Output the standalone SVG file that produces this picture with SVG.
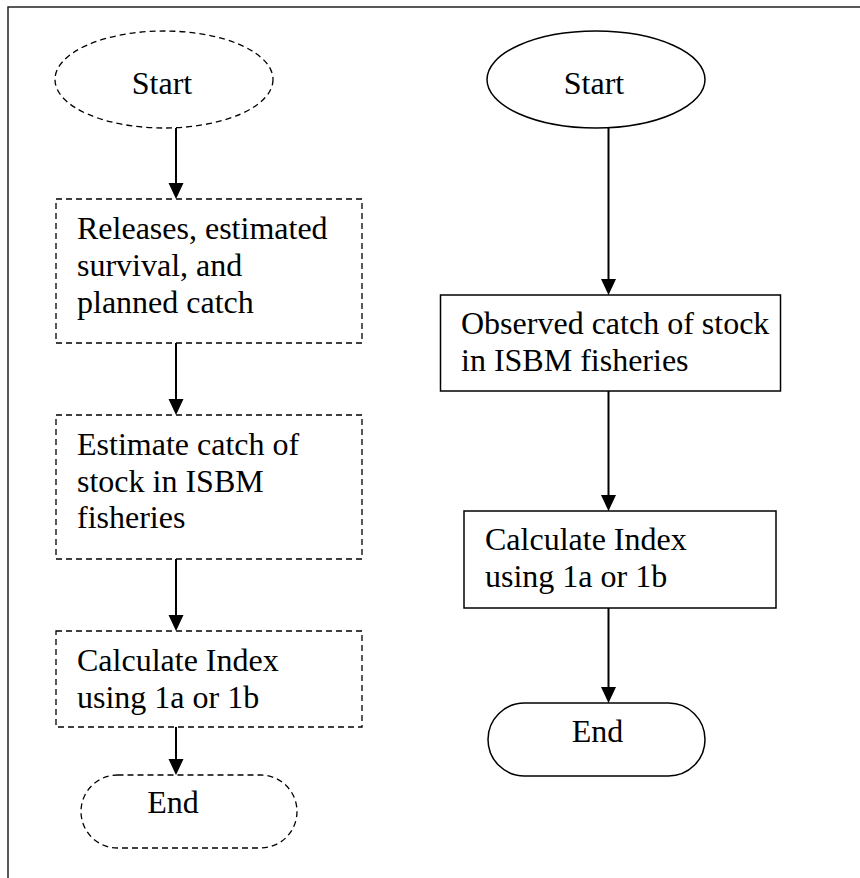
<svg xmlns="http://www.w3.org/2000/svg" width="860" height="878" viewBox="0 0 860 878">
  <defs>
    <marker id="arrow" markerUnits="userSpaceOnUse" markerWidth="16" markerHeight="16" viewBox="0 0 16 16" refX="6" refY="8" orient="auto">
      <path d="M0,0.5 L16,8 L0,15.5 z" fill="#000"/>
    </marker>
    <style>
      .solid{fill:#fff;stroke:#000;stroke-width:1.5}
      .dash{fill:#fff;stroke:#000;stroke-width:1.3;stroke-dasharray:6 4}
      .lbl{font-family:"Liberation Serif","Times New Roman",serif;font-size:32px;fill:#000}
      .mid{text-anchor:middle}
      .conn{stroke:#000;stroke-width:2;fill:none;marker-end:url(#arrow)}
    </style>
  </defs>
  <rect width="860" height="878" fill="#fff"/>
  <!-- page frame (left and top edges) -->
  <path d="M8,878 V7 H860" fill="none" stroke="#222" stroke-width="1.5"/>

  <!-- connectors -->
  <g id="connectors">
    <path class="conn" d="M176,128 V189"/>
    <path class="conn" d="M176,343 V405"/>
    <path class="conn" d="M176,559 V621"/>
    <path class="conn" d="M176,727 V765"/>
    <path class="conn" d="M608.5,128 V285"/>
    <path class="conn" d="M608.5,391 V501"/>
    <path class="conn" d="M608.5,608 V693"/>
  </g>

  <!-- planned (dashed) flow -->
  <g id="plan-start">
    <ellipse class="dash" cx="164" cy="79.5" rx="109" ry="48.5"/>
    <text class="lbl mid" x="162" y="94">Start</text>
  </g>
  <g id="plan-releases">
    <rect class="dash" x="56" y="199" width="306" height="144"/>
    <text class="lbl" x="77" y="239">Releases, estimated</text>
    <text class="lbl" x="77" y="276">survival, and</text>
    <text class="lbl" x="77" y="313">planned catch</text>
  </g>
  <g id="plan-estimate">
    <rect class="dash" x="56" y="415" width="306" height="144"/>
    <text class="lbl" x="77" y="455">Estimate catch of</text>
    <text class="lbl" x="77" y="491.5">stock in ISBM</text>
    <text class="lbl" x="77" y="528">fisheries</text>
  </g>
  <g id="plan-index">
    <rect class="dash" x="56" y="631" width="306" height="96"/>
    <text class="lbl" x="77" y="671">Calculate Index</text>
    <text class="lbl" x="77" y="708">using 1a or 1b</text>
  </g>
  <g id="plan-end">
    <rect class="dash" x="81" y="775" width="216" height="73" rx="36.5" ry="36.5"/>
    <text class="lbl mid" x="173" y="813">End</text>
  </g>

  <!-- observed (solid) flow -->
  <g id="obs-start">
    <ellipse class="solid" cx="596" cy="79.5" rx="109" ry="48.5"/>
    <text class="lbl mid" x="594" y="94">Start</text>
  </g>
  <g id="obs-catch">
    <rect class="solid" x="440.5" y="295" width="340" height="96"/>
    <text class="lbl" x="461" y="334">Observed catch of stock</text>
    <text class="lbl" x="461" y="371">in ISBM fisheries</text>
  </g>
  <g id="obs-index">
    <rect class="solid" x="464" y="511" width="312" height="97"/>
    <text class="lbl" x="485" y="550">Calculate Index</text>
    <text class="lbl" x="485" y="587">using 1a or 1b</text>
  </g>
  <g id="obs-end">
    <rect class="solid" x="488" y="703" width="217" height="73" rx="36.5" ry="36.5"/>
    <text class="lbl mid" x="597.5" y="742">End</text>
  </g>
</svg>
